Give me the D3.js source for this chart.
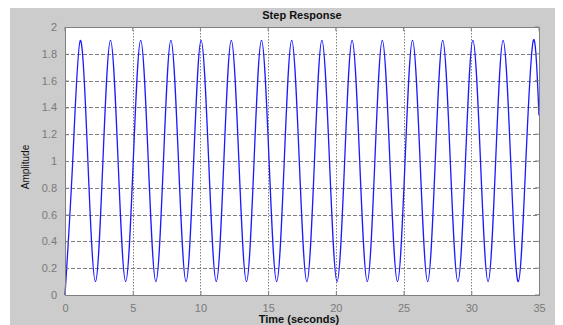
<!DOCTYPE html>
<html>
<head>
<meta charset="utf-8">
<script src="https://cdn.jsdelivr.net/npm/d3@7/dist/d3.min.js"></script>
<style>
  html, body { margin: 0; padding: 0; background: #fff; }
  svg { display: block; }
  text { font-family: "Liberation Sans", Arial, sans-serif; }
</style>
</head>
<body>
<svg id="chart" width="563" height="325"></svg>
<script>
// Step response samples: time (s) and amplitude at start, crossings, peaks and troughs
const times = [
  0, 0.57, 1.13, 1.69, 2.25, 2.80, 3.36, 3.92, 4.48, 5.04, 5.59, 6.15, 6.71, 7.27, 7.82,
  8.38, 8.94, 9.50, 10.05, 10.61, 11.17, 11.73, 12.28, 12.84, 13.40, 13.96, 14.51, 15.07,
  15.63, 16.19, 16.74, 17.30, 17.86, 18.42, 18.97, 19.53, 20.09, 20.65, 21.20, 21.76,
  22.32, 22.88, 23.43, 23.99, 24.55, 25.11, 25.66, 26.22, 26.78, 27.34, 27.89, 28.45,
  29.01, 29.57, 30.12, 30.68, 31.24, 31.80, 32.35, 32.91, 33.47, 34.03, 34.58, 35
];
const amplitude = [
  0, 1.0, 1.9, 1.0, 0.1, 1.0, 1.9, 1.0, 0.1, 1.0, 1.9, 1.0, 0.1, 1.0, 1.9,
  1.0, 0.1, 1.0, 1.9, 1.0, 0.1, 1.0, 1.9, 1.0, 0.1, 1.0, 1.9, 1.0,
  0.1, 1.0, 1.9, 1.0, 0.1, 1.0, 1.9, 1.0, 0.1, 1.0, 1.9, 1.0,
  0.1, 1.0, 1.9, 1.0, 0.1, 1.0, 1.9, 1.0, 0.1, 1.0, 1.9, 1.0,
  0.1, 1.0, 1.9, 1.0, 0.1, 1.0, 1.9, 1.0, 0.1, 1.0, 1.9, 1.34
];
const xTicks = [0, 5, 10, 15, 20, 25, 30, 35];
const yTicks = [0, 0.2, 0.4, 0.6, 0.8, 1, 1.2, 1.4, 1.6, 1.8, 2];

const svg = d3.select("#chart");
const W = 563, H = 325;
const plot = { left: 65, top: 27, right: 539, bottom: 295 };

// figure background
svg.append("rect").attr("x", 10).attr("y", 8).attr("width", 545).attr("height", H - 8)
  .attr("fill", "#cccccc");

const x = d3.scaleLinear().domain([0, 35]).range([plot.left, plot.right]);
const y = d3.scaleLinear().domain([0, 2]).range([plot.bottom, plot.top]);

// axes area
svg.append("rect")
  .attr("x", plot.left).attr("y", plot.top)
  .attr("width", plot.right - plot.left).attr("height", plot.bottom - plot.top)
  .attr("fill", "#ffffff");

// grid lines
const grid = svg.append("g");
grid.selectAll("line.h").data(yTicks.slice(1, -1)).join("line")
  .attr("x1", plot.left).attr("x2", plot.right)
  .attr("y1", d => Math.round(y(d)) + 0.5).attr("y2", d => Math.round(y(d)) + 0.5)
  .attr("stroke", "#808080").attr("stroke-width", 1).attr("stroke-dasharray", "4,2");
grid.selectAll("line.v").data(xTicks.slice(1, -1)).join("line")
  .attr("y1", plot.top).attr("y2", plot.bottom)
  .attr("x1", d => Math.round(x(d)) + 0.5).attr("x2", d => Math.round(x(d)) + 0.5)
  .attr("stroke", "#808080").attr("stroke-width", 1).attr("stroke-dasharray", "1.5,1.5");

// response curve
const line = d3.line()
  .x((d, i) => x(times[i]))
  .y(d => y(d))
  .curve(d3.curveNatural);
svg.append("path")
  .datum(amplitude)
  .attr("d", line)
  .attr("fill", "none")
  .attr("stroke", "#1a1aff")
  .attr("stroke-width", 1.3);

// axes with inward ticks
const tickColor = "#808080";
const xAxis = svg.append("g").attr("transform", `translate(0,${plot.bottom})`)
  .call(d3.axisBottom(x).tickValues(xTicks).tickSize(-4).tickPadding(9).tickFormat(d3.format("d")));
const yAxis = svg.append("g").attr("transform", `translate(${plot.left},0)`)
  .call(d3.axisLeft(y).tickValues(yTicks).tickSize(-4).tickPadding(8).tickFormat(d => String(+d.toFixed(1))));
[xAxis, yAxis].forEach(a => {
  a.select(".domain").remove();
  a.selectAll("line").attr("stroke", tickColor);
  a.selectAll("text").attr("fill", "#7a7a7a").attr("font-size", 11)
    .attr("font-family", "Liberation Sans, Arial, sans-serif");
});

// top/right ticks
svg.append("g").selectAll("line").data(xTicks).join("line")
  .attr("x1", d => x(d)).attr("x2", d => x(d)).attr("y1", plot.top).attr("y2", plot.top + 4)
  .attr("stroke", tickColor);
svg.append("g").selectAll("line").data(yTicks).join("line")
  .attr("y1", d => y(d)).attr("y2", d => y(d)).attr("x1", plot.right).attr("x2", plot.right - 4)
  .attr("stroke", tickColor);

// axes box
svg.append("rect")
  .attr("x", plot.left + 0.5).attr("y", plot.top + 0.5)
  .attr("width", plot.right - plot.left).attr("height", plot.bottom - plot.top)
  .attr("fill", "none").attr("stroke", "#808080").attr("stroke-width", 1);

// labels
svg.append("text").attr("x", (plot.left + plot.right) / 2).attr("y", 19)
  .attr("text-anchor", "middle").attr("font-size", 11).attr("font-weight", "bold")
  .attr("fill", "#111").text("Step Response");
svg.append("text").attr("x", (plot.left + plot.right) / 2 - 3).attr("y", 323)
  .attr("text-anchor", "middle").attr("font-size", 11).attr("font-weight", "bold")
  .attr("fill", "#111").text("Time (seconds)");
svg.append("text")
  .attr("transform", `translate(29,${(plot.top + plot.bottom) / 2 + 6}) rotate(-90)`)
  .attr("text-anchor", "middle").attr("font-size", 10)
  .attr("fill", "#111").text("Amplitude");
</script>
</body>
</html>
